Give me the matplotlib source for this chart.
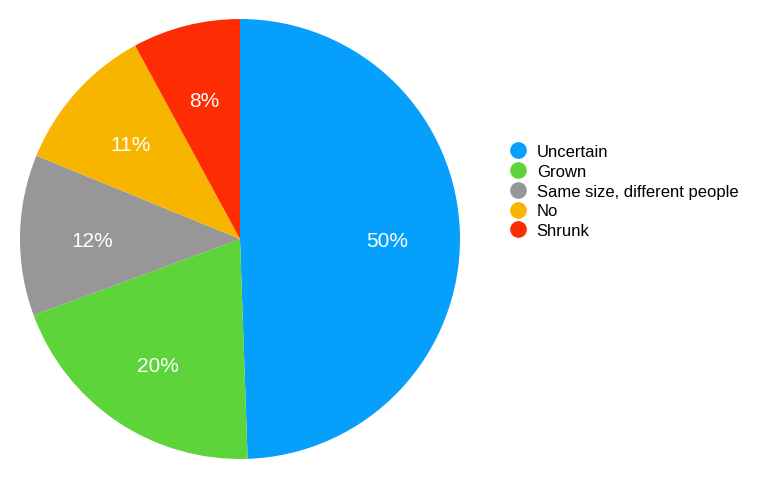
import numpy as np
import matplotlib.pyplot as plt
from matplotlib.lines import Line2D

plt.rcParams['font.family'] = ['Liberation Sans', 'DejaVu Sans']

categories = ["Uncertain", "Grown", "Same size, different people", "No", "Shrunk"]
shares = [49.4, 19.9, 11.8, 10.9, 7.9]
pct_labels = ["50%", "20%", "12%", "11%", "8%"]
colors = ['#069ffb', '#5dd43a', '#979797', '#f8b500', '#fe2c02']

fig = plt.figure(figsize=(7.68, 4.81), dpi=100)
ax = fig.add_axes([20 / 768, 21 / 481, 440 / 768, 440 / 481])

wedges, _ = ax.pie(shares, colors=colors, startangle=90, counterclock=False,
                   radius=1, wedgeprops=dict(linewidth=0))
ax.set_xlim(-1, 1)
ax.set_ylim(-1, 1)
ax.set_aspect('equal')

# percentage labels in the middle of each wedge
for w, lab in zip(wedges, pct_labels):
    ang = np.deg2rad((w.theta1 + w.theta2) / 2)
    ax.text(0.67 * np.cos(ang), 0.67 * np.sin(ang) - 0.01, lab, color='white',
            fontsize=15, ha='center', va='center_baseline')

handles = [Line2D([], [], marker='o', linestyle='none', markersize=11,
                  markerfacecolor=c, markeredgecolor=c) for c in colors]
fig.legend(handles, categories, loc='center left', bbox_to_anchor=(500 / 768, 1 - 192 / 481),
           frameon=False, fontsize=12, labelspacing=0.29, handletextpad=0.5,
           handlelength=1.2, borderpad=0)

fig.savefig('out.png', dpi=100)
